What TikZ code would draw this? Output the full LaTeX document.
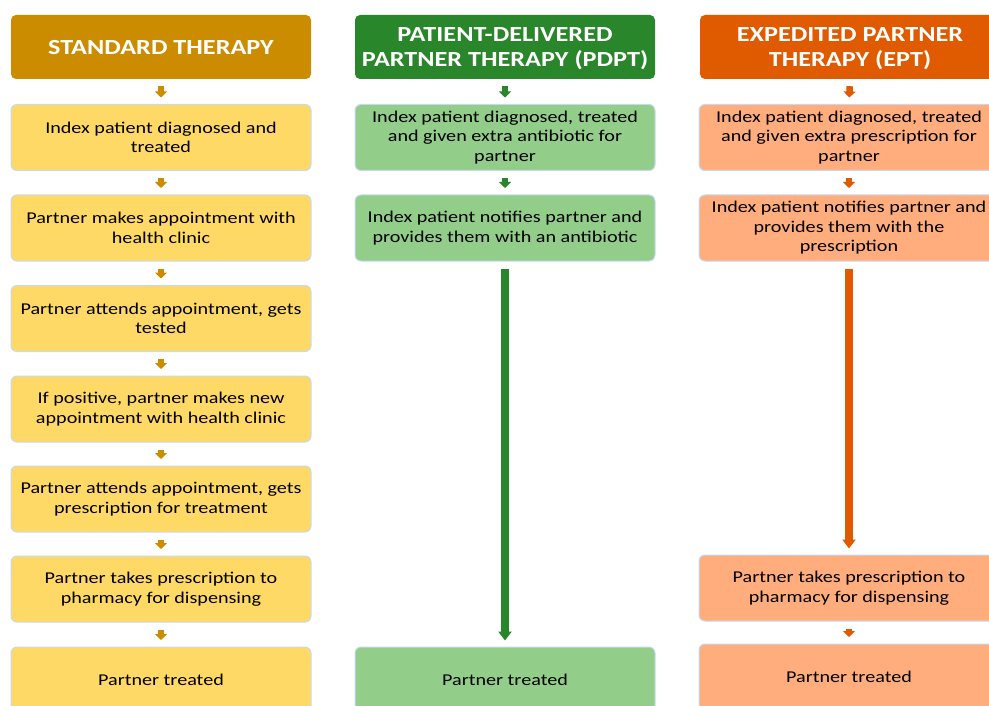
\documentclass[tikz,border=0pt]{standalone}
\usepackage{fontspec}
\setmainfont{Carlito}[FakeStretch=1.22]
\usetikzlibrary{arrows.meta}
\definecolor{hdA}{RGB}{204,140,0}
\definecolor{hdB}{RGB}{42,134,42}
\definecolor{hdC}{RGB}{224,90,0}
\definecolor{bxA}{RGB}{255,217,102}
\definecolor{bxB}{RGB}{147,205,138}
\definecolor{bxC}{RGB}{255,173,124}
\definecolor{boxline}{RGB}{197,217,241}
\begin{document}
\begin{tikzpicture}[x=1pt,y=-1pt,
  stepbox/.style={draw=boxline, line width=1pt, rounded corners=6pt, minimum width=300pt, minimum height=66pt, align=center, inner sep=0pt, font=\fontsize{16.5}{19.5}\selectfont},
  headbox/.style={rounded corners=5pt, minimum width=300pt, minimum height=64pt, align=center, inner sep=0pt, text depth=0pt, text=white, font=\bfseries\fontsize{21.5}{25}\selectfont},
  sarrow/.style={line width=6.5pt, -{Triangle[width=12pt,length=6pt]}, shorten <=7pt, shorten >=6.5pt},
  larrow/.style={line width=8pt, -{Triangle[width=13pt,length=9pt]}, shorten <=7pt, shorten >=6pt}]
\useasboundingbox (0,0) rectangle (989,706);
\clip (0,0) rectangle (989,706);
% column A
\node[headbox, fill=hdA] (hA) at (161,47) {STANDARD THERAPY};
\node[stepbox, fill=bxA] (a1) at (161,137.5) {Index patient diagnosed and\\treated};
\node[stepbox, fill=bxA] (a2) at (161,228) {Partner makes appointment with\\health clinic};
\node[stepbox, fill=bxA] (a3) at (161,318.5) {Partner attends appointment, gets\\tested};
\node[stepbox, fill=bxA] (a4) at (161,409) {If positive, partner makes new\\appointment with health clinic};
\node[stepbox, fill=bxA] (a5) at (161,499) {Partner attends appointment, gets\\prescription for treatment};
\node[stepbox, fill=bxA] (a6) at (161,589) {Partner takes prescription to\\pharmacy for dispensing};
\node[stepbox, fill=bxA] (a7) at (161,680) {Partner treated};
\foreach \p/\q in {hA/a1,a1/a2,a2/a3,a3/a4,a4/a5,a5/a6,a6/a7}
  \draw[sarrow, draw=hdA, fill=hdA] (\p.south) -- (\q.north);
% column B
\node[headbox, fill=hdB] (hB) at (505,47) {PATIENT-DELIVERED\\PARTNER THERAPY (PDPT)};
\node[stepbox, fill=bxB] (b1) at (505,137.5) {Index patient diagnosed, treated\\and given extra antibiotic for\\partner};
\node[stepbox, fill=bxB] (b2) at (505,228) {Index patient notifies partner and\\provides them with an antibiotic};
\node[stepbox, fill=bxB] (b3) at (505,680) {Partner treated};
\draw[sarrow, draw=hdB] (hB.south) -- (b1.north);
\draw[sarrow, draw=hdB] (b1.south) -- (b2.north);
\draw[larrow, draw=hdB] (b2.south) -- (b3.north);
% column C
\node[headbox, fill=hdC] (hC) at (850,47) {EXPEDITED PARTNER\\THERAPY (EPT)};
\node[stepbox, fill=bxC] (c1) at (849,137.5) {Index patient diagnosed, treated\\and given extra prescription for\\partner};
\node[stepbox, fill=bxC] (c2) at (849,228) {Index patient notifies partner and\\provides them with the\\prescription};
\node[stepbox, fill=bxC] (c3) at (849,588) {Partner takes prescription to\\pharmacy for dispensing};
\node[stepbox, fill=bxC] (c4) at (849,677) {Partner treated};
\draw[sarrow, draw=hdC] (hC.south) -- (c1.north);
\draw[sarrow, draw=hdC] (c1.south) -- (c2.north);
\draw[larrow, draw=hdC] (c2.south) -- (c3.north);
\draw[sarrow, draw=hdC] (c3.south) -- (c4.north);
\end{tikzpicture}
\end{document}
